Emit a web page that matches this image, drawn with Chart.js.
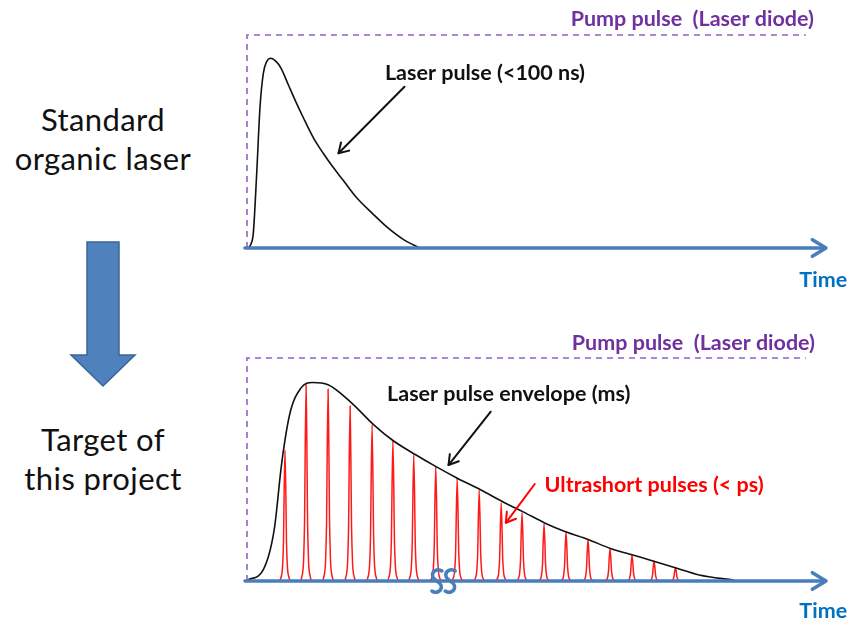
<!DOCTYPE html>
<html>
<head>
<meta charset="utf-8">
<script src="https://cdn.jsdelivr.net/npm/chart.js@4.4.1/dist/chart.umd.min.js"></script>
<style>
  body { margin: 0; background: #fff; width: 851px; height: 622px; overflow: hidden; position: relative; font-family: Lato, "Open Sans", sans-serif; }
  canvas.panel { position: absolute; left: 0; }
  #topChart { top: 0; }
  #bottomChart { top: 311px; }
  .side { position: absolute; left: 0; width: 206px; text-align: center; font-size: 31px; line-height: 39px; letter-spacing: 0.4px; color: #111; }
  #bigArrow { position: absolute; left: 0; top: 0; }
</style>
</head>
<body>
<div class="side" style="top:100px">Standard<br>organic laser</div>
<svg id="bigArrow" width="160" height="400">
  <polygon points="87,242 119,242 119,355 135,355 103,386 71,355 87,355" fill="#4f81bd" stroke="#3a6595" stroke-width="1.5"/>
</svg>
<div class="side" style="top:420px">Target of<br>this project</div>
<canvas id="topChart" class="panel" width="851" height="311"></canvas>
<canvas id="bottomChart" class="panel" width="851" height="311"></canvas>
<script>
// pump pulse (laser diode), same in both panels; level 1 = pump height
const pumpTime = [0, 0, 96.5];
const pumpLevel = [0, 1, 1];

// top panel: standard organic laser pulse (<100 ns)
const laserTime = [0.22, 0.69, 1.09, 1.68, 2.25, 2.82, 3.4, 4.09, 5.01, 5.87, 7.08, 8.46, 9.67, 11.4, 13.13, 14.85, 16.58, 18.83, 21.59, 24.35, 27.12, 29.88];
const laserLevel = [0, 0.019, 0.07, 0.352, 0.663, 0.82, 0.875, 0.891, 0.876, 0.845, 0.77, 0.685, 0.615, 0.521, 0.446, 0.38, 0.319, 0.239, 0.164, 0.094, 0.038, 0];

// bottom panel: laser pulse envelope (ms)
const envTime = [0.1, 2.8, 4.7, 6.0, 7.4, 9.3, 11.3, 14.0, 18.0, 21.9, 25.2, 29.2, 32.5, 36.4, 40.4, 44.4, 47.7, 51.6, 54.9, 58.9, 62.9, 66.8, 70.1, 74.1, 78.1, 84.1];
const envLevel = [0.004, 0.05, 0.23, 0.53, 0.75, 0.865, 0.89, 0.88, 0.80, 0.70, 0.63, 0.565, 0.515, 0.46, 0.408, 0.352, 0.31, 0.258, 0.222, 0.186, 0.145, 0.115, 0.09, 0.058, 0.027, 0.004];

// ultrashort pulses (< ps): peak times and heights
const pulseTime = [6.56, 10.2, 14.0, 17.8, 21.6, 25.2, 28.8, 32.6, 36.3, 40.1, 43.9, 47.5, 51.3, 55.1, 58.9, 62.7, 66.5, 70.3, 74.0];
const pulseHeight = [0.587, 0.879, 0.86, 0.785, 0.70, 0.632, 0.565, 0.516, 0.46, 0.408, 0.351, 0.306, 0.256, 0.221, 0.187, 0.147, 0.117, 0.09, 0.061];

// shape of one short pulse: [time offset, fraction of peak]
const pulseShape = [[-0.9, 0], [-0.6, 0.04], [-0.43, 0.1], [-0.26, 0.3], [-0.14, 0.7], [0, 1], [0.14, 0.7], [0.26, 0.3], [0.43, 0.1], [0.6, 0.04], [0.9, 0]];

const AXIS_BLUE = '#4a7ebb';
const FONT = 'bold 21.5px Lato, "Open Sans", sans-serif';

function pts(xs, ys) {
  return xs.map((x, i) => ({ x: x, y: ys[i] }));
}

function pulsePoints() {
  const out = [];
  pulseTime.forEach((t, i) => {
    pulseShape.forEach(s => out.push({ x: t + s[0], y: s[1] * pulseHeight[i] }));
    out.push({ x: t + 1, y: null });
  });
  return out;
}

function arrowHead(ctx, x1, y1, x2, y2, len) {
  const a = Math.atan2(y2 - y1, x2 - x1);
  ctx.beginPath();
  ctx.moveTo(x2 - len * Math.cos(a - 0.55), y2 - len * Math.sin(a - 0.55));
  ctx.lineTo(x2, y2);
  ctx.lineTo(x2 - len * Math.cos(a + 0.55), y2 - len * Math.sin(a + 0.55));
  ctx.stroke();
}

const overlay = {
  id: 'overlay',
  afterDatasetsDraw(chart, args, opts) {
    const ctx = chart.ctx;
    const xs = chart.scales.x, ys = chart.scales.y;
    const X = v => xs.getPixelForValue(v), Y = v => ys.getPixelForValue(v);
    ctx.save();
    ctx.lineCap = 'round';
    ctx.lineJoin = 'round';

    // time axis with arrow
    const y0 = Y(0);
    ctx.strokeStyle = AXIS_BLUE;
    ctx.lineWidth = 3.5;
    ctx.beginPath();
    ctx.moveTo(X(-0.35), y0);
    ctx.lineTo(X(100) - 1, y0);
    ctx.stroke();
    arrowHead(ctx, X(90), y0, X(100), y0, 16);

    // axis break
    (opts.breaks || []).forEach(b => {
      const cx = X(b);
      ctx.beginPath();
      ctx.moveTo(cx + 5, y0 - 10);
      ctx.bezierCurveTo(cx + 1, y0 - 13, cx - 6, y0 - 10, cx - 4, y0 - 4);
      ctx.bezierCurveTo(cx - 3, y0 - 1, cx + 3, y0 + 1, cx + 4, y0 + 4);
      ctx.bezierCurveTo(cx + 6, y0 + 10, cx - 1, y0 + 13, cx - 5, y0 + 10);
      ctx.stroke();
    });

    // pointer arrows
    (opts.arrows || []).forEach(a => {
      ctx.strokeStyle = a.color;
      ctx.lineWidth = 2;
      ctx.beginPath();
      ctx.moveTo(X(a.from[0]), Y(a.from[1]));
      ctx.lineTo(X(a.to[0]), Y(a.to[1]));
      ctx.stroke();
      arrowHead(ctx, X(a.from[0]), Y(a.from[1]), X(a.to[0]), Y(a.to[1]), 11);
    });

    // labels (alphabetic baseline)
    ctx.textBaseline = 'alphabetic';
    ctx.font = FONT;
    (opts.labels || []).forEach(l => {
      ctx.fillStyle = l.color;
      ctx.textAlign = l.align;
      ctx.fillText(l.text, X(l.at[0]), Y(l.at[1]));
    });
    ctx.restore();
  }
};

function makeChart(id, datasets, padding, extra) {
  return new Chart(document.getElementById(id), {
    type: 'line',
    data: { datasets: datasets },
    plugins: [overlay],
    options: {
      responsive: false,
      animation: false,
      devicePixelRatio: 1,
      layout: { padding: padding },
      elements: { point: { radius: 0 } },
      scales: {
        x: { type: 'linear', min: 0, max: 100, display: false },
        y: { min: 0, max: 1, display: false }
      },
      plugins: { legend: { display: false }, tooltip: { enabled: false }, overlay: extra }
    }
  });
}

function pumpSet() {
  return { data: pts(pumpTime, pumpLevel), borderColor: '#9062c9', borderWidth: 1.6, borderDash: [6, 5], tension: 0, clip: false };
}

makeChart('topChart', [
  { data: pts(laserTime, laserLevel), borderColor: '#111', borderWidth: 1.6, cubicInterpolationMode: 'monotone', clip: false },
  pumpSet()
], { left: 247, right: 25, top: 35, bottom: 63 }, {
  labels: [
    { text: 'Pump pulse  (Laser diode)', at: [97.9, 1.042], align: 'right', color: '#7030a0' },
    { text: 'Laser pulse (<100 ns)', at: [41.1, 0.789], align: 'center', color: '#111' },
    { text: 'Time', at: [95.4, -0.183], align: 'left', color: '#0070c0' }
  ],
  arrows: [{ from: [27.2, 0.757], to: [15.8, 0.445], color: '#111' }]
});

makeChart('bottomChart', [
  { data: pts(envTime, envLevel), borderColor: '#111', borderWidth: 1.6, cubicInterpolationMode: 'monotone', clip: false },
  { data: pulsePoints(), borderColor: '#ff1a1a', borderWidth: 1.5, tension: 0.2, spanGaps: false, clip: false },
  pumpSet()
], { left: 247, right: 25, top: 47, bottom: 41 }, {
  labels: [
    { text: 'Pump pulse  (Laser diode)', at: [98.1, 1.038], align: 'right', color: '#7030a0' },
    { text: 'Laser pulse envelope (ms)', at: [45.2, 0.809], align: 'center', color: '#111' },
    { text: 'Ultrashort pulses (< ps)', at: [70.3, 0.401], align: 'center', color: '#ff0000' },
    { text: 'Time', at: [95.4, -0.164], align: 'left', color: '#0070c0' }
  ],
  arrows: [
    { from: [42.1, 0.759], to: [34.8, 0.52], color: '#111' },
    { from: [49.7, 0.435], to: [44.7, 0.261], color: '#ff0000' }
  ],
  breaks: [32.8, 35.1]
});
</script>
</body>
</html>
